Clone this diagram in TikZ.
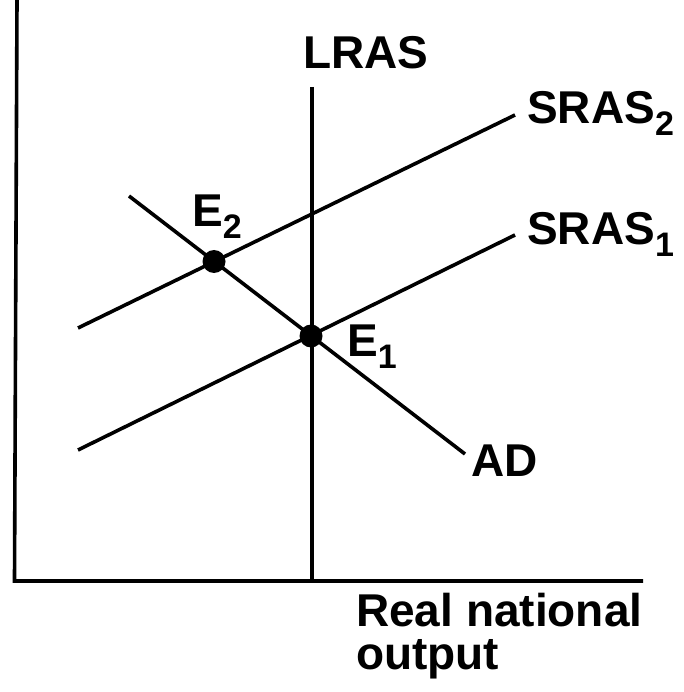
\documentclass[tikz,border=0pt]{standalone}
\usepackage{fontspec}
\setmainfont{Liberation Sans}
\newcommand{\mainsz}{\fontsize{46pt}{46pt}\selectfont\bfseries}
\newcommand{\subsz}{\fontsize{34pt}{34pt}\selectfont\bfseries}
\newcommand{\lowsub}[1]{\raisebox{-12pt}{\subsz #1}}
\begin{document}
\begin{tikzpicture}[x=1pt,y=-1pt,
  curve/.style={line width=3.6pt},
  axisline/.style={line width=3.6pt, line join=miter},
  lbl/.style={inner sep=0pt, anchor=base west, font=\mainsz},
  eqdot/.style={circle, fill=black, minimum size=23pt, inner sep=0pt}]
\useasboundingbox (0,0) rectangle (683,692);
% axes
\coordinate (ytop) at (17,0);
\coordinate (origin) at (14.5,581);
\coordinate (xend) at (643,581);
\draw[axisline] (ytop) -- (origin) -- (xend);
% LRAS
\coordinate (lrastop) at (312,87);
\coordinate (lrasbot) at (312,581);
\draw[curve] (lrastop) -- (lrasbot);
% SRAS curves
\coordinate (s2a) at (78,328);
\coordinate (s2b) at (515,115);
\coordinate (s1a) at (78,450);
\coordinate (s1b) at (515,235);
\draw[curve] (s2a) -- (s2b);
\draw[curve] (s1a) -- (s1b);
% AD
\coordinate (ada) at (129,196);
\coordinate (adb) at (465,454);
\draw[curve] (ada) -- (adb);
% equilibrium points
\node[eqdot] (e2) at (214,261.5) {};
\node[eqdot] (e1) at (311,336) {};
% labels
\node[lbl] (lLRAS) at (303,69) {LRAS};
\node[lbl] (lS2) at (527,124) {SRAS\lowsub{2}};
\node[lbl] (lS1) at (527,244) {SRAS\lowsub{1}};
\node[lbl] (lE2) at (192,227) {E\lowsub{2}};
\node[lbl] (lE1) at (347,356) {E\lowsub{1}};
\node[lbl] (lAD) at (471,476) {AD};
\node[lbl] (lx1) at (356,626) {Real national};
\node[lbl] (lx2) at (356,669) {output};
\end{tikzpicture}
\end{document}
